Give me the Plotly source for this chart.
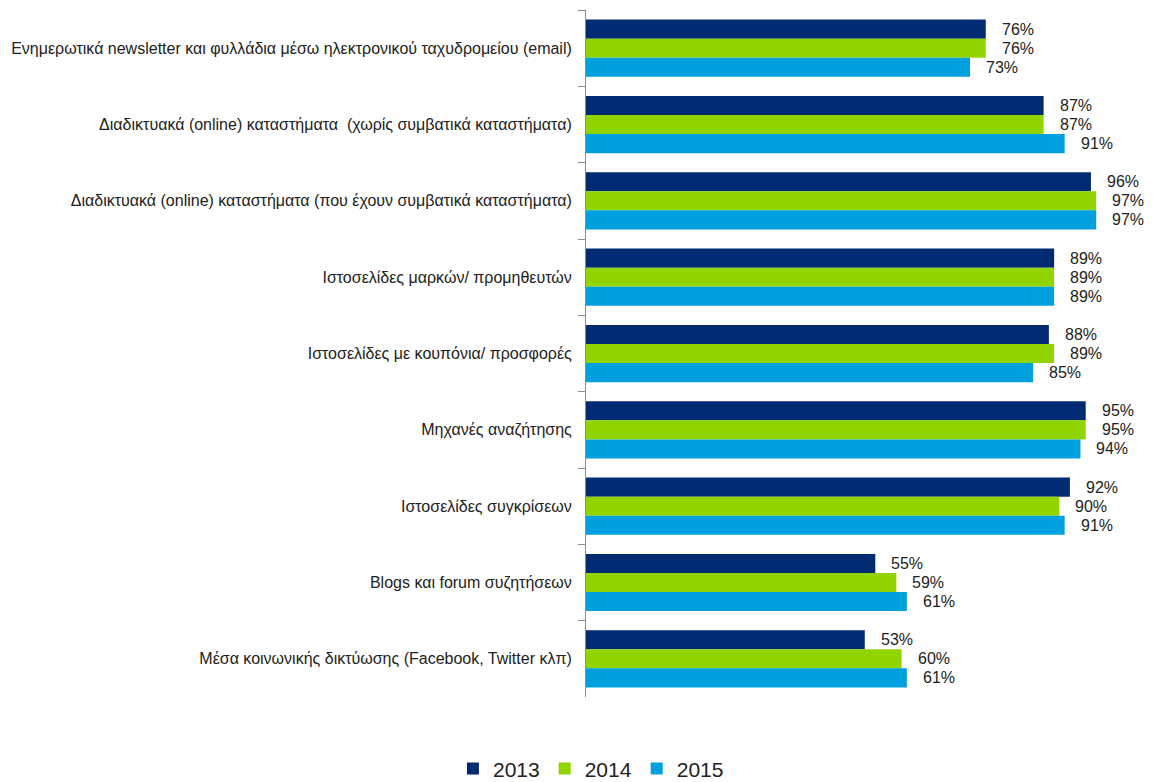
import plotly.graph_objects as go

categories = [
    "Ενημερωτικά newsletter και φυλλάδια μέσω ηλεκτρονικού ταχυδρομείου (email)",
    "Διαδικτυακά (online) καταστήματα  (χωρίς συμβατικά καταστήματα)",
    "Διαδικτυακά (online) καταστήματα (που έχουν συμβατικά καταστήματα)",
    "Ιστοσελίδες μαρκών/ προμηθευτών",
    "Ιστοσελίδες με κουπόνια/ προσφορές",
    "Μηχανές αναζήτησης",
    "Ιστοσελίδες συγκρίσεων",
    "Blogs και forum συζητήσεων",
    "Μέσα κοινωνικής δικτύωσης (Facebook, Twitter κλπ)",
]
years = ["2013", "2014", "2015"]
values_2013 = [76, 87, 96, 89, 88, 95, 92, 55, 53]
values_2014 = [76, 87, 97, 89, 89, 95, 90, 59, 60]
values_2015 = [73, 91, 97, 89, 85, 94, 91, 61, 61]

series = [values_2013, values_2014, values_2015]
colors = ["#002B73", "#92D400", "#00A0DF"]

FONT = "Liberation Sans, Arial, sans-serif"
bargap = 0.25
bar_w = (1 - bargap) / 3

fig = go.Figure()
annotations = []
for k, (year, vals, col) in enumerate(zip(years, series, colors)):
    fig.add_trace(go.Bar(
        name=year, y=categories, x=vals, orientation="h",
        marker=dict(color=col, line=dict(width=0)),
    ))
    off = (k - 1) * bar_w
    for i, v in enumerate(vals):
        annotations.append(dict(
            x=v, y=i + off, xref="x", yref="y", text=f"{v}%",
            showarrow=False, xanchor="left", yanchor="middle", xshift=14,
            font=dict(family=FONT, size=16, color="#222222"),
        ))

fig.update_layout(
    width=1161, height=782,
    margin=dict(l=586, r=49, t=10, b=85, autoexpand=False),
    paper_bgcolor="white", plot_bgcolor="white",
    barmode="group", bargap=bargap, bargroupgap=0,
    font=dict(family=FONT, color="#222222"),
    annotations=annotations,
    legend=dict(
        orientation="h", xref="container", yref="container",
        x=0.509, xanchor="center", y=0.043, yanchor="top",
        font=dict(family=FONT, size=21, color="#222222"),
        itemwidth=30, traceorder="normal", tracegroupgap=0,
    ),
    xaxis=dict(range=[0, 100], visible=False, fixedrange=True),
    yaxis=dict(
        autorange="reversed", showgrid=False, zeroline=False,
        showline=True, linecolor="#8C8C8C", linewidth=1,
        ticks="outside", tickson="boundaries", ticklen=7, tickcolor="#8C8C8C",
        ticklabelstandoff=10,
        tickfont=dict(family=FONT, size=16, color="#222222"),
    ),
)

fig.write_html("out.html")
